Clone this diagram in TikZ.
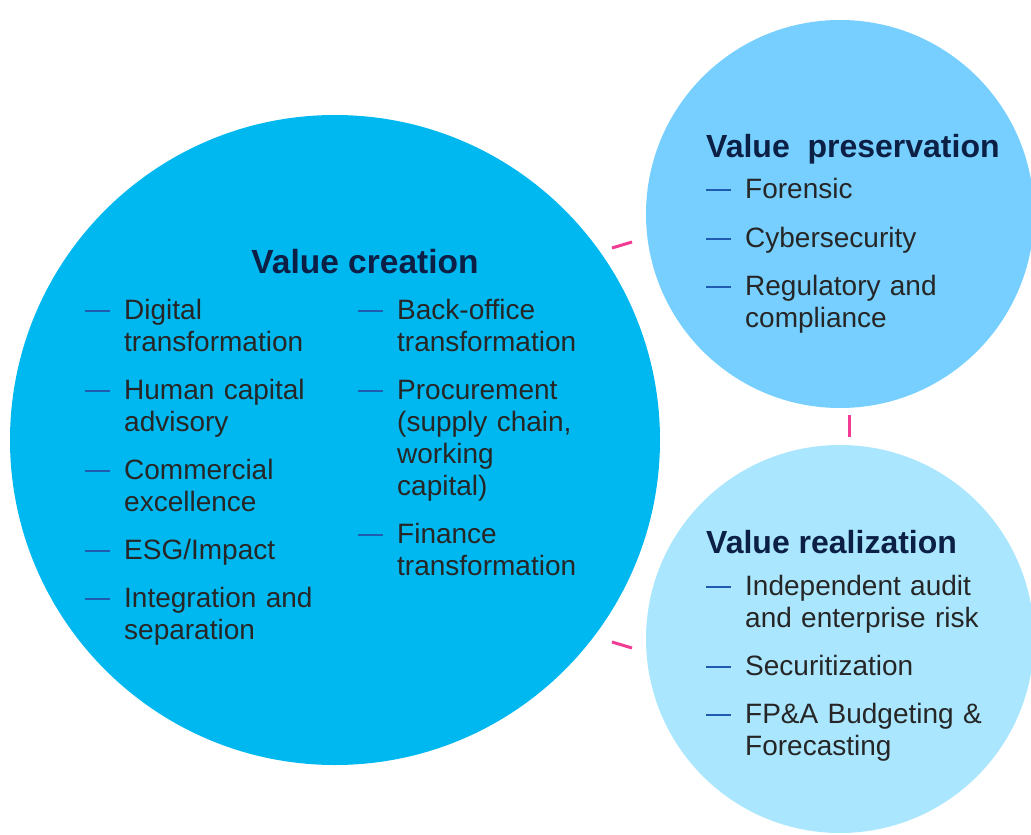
\documentclass[tikz,border=0pt]{standalone}
\usepackage{fontspec}
\setmainfont{Liberation Sans}
\usetikzlibrary{positioning}
\definecolor{creation}{HTML}{00B8F0}
\definecolor{preservation}{HTML}{76CFFF}
\definecolor{realization}{HTML}{AAE7FF}
\definecolor{navy}{HTML}{0C1F45}
\definecolor{bodygray}{HTML}{262626}
\definecolor{dashblue}{HTML}{1F5CB0}
\definecolor{tickpink}{HTML}{F23C94}

\begin{document}
\begin{tikzpicture}[x=1pt,y=-1pt]
\tikzstyle{itm}=[anchor=base west,inner sep=0pt,text width=300pt,align=left,text=bodygray,font=\fontsize{28}{32}\selectfont]
\tikzstyle{ttl}=[anchor=base west,inner sep=0pt,text=navy,font=\fontsize{32}{36}\selectfont\bfseries]
\tikzstyle{dsh}=[draw=dashblue,line width=1.6pt]
\tikzstyle{tick}=[draw=tickpink,line width=3pt]
\useasboundingbox (0,0) rectangle (1031,835);

% the three circles
\fill[creation] (335,440) circle (325);
\fill[preservation] (840,214) circle (194);
\fill[realization] (840,639) circle (194);

% small marks in the gaps
\draw[tick] (612,248) -- (632,242);
\draw[tick] (849,415) -- (849,437);
\draw[tick] (612,642) -- (632,648);

% value creation
\node[ttl,anchor=base,font=\fontsize{33.5}{38}\selectfont\bfseries] (crt) at (365,273) {Value creation};
\node[itm] (dig) at (124,319) {Digital\\transformation};
\node[itm] (hum) at (124,399) {Human capital\\advisory};
\node[itm] (com) at (124,479) {Commercial\\excellence};
\node[itm] (esg) at (124,559) {ESG/Impact};
\node[itm] (int) at (124,607) {Integration and\\separation};
\node[itm] (bck) at (397,319) {Back-office\\transformation};
\node[itm] (prc) at (397,399) {Procurement\\(supply chain,\\working\\capital)};
\node[itm] (fin) at (397,543) {Finance\\transformation};

% value preservation
\node[ttl] (prs) at (706,157) {Value~ preservation};
\node[itm] (frn) at (745,198) {Forensic};
\node[itm] (cyb) at (745,247) {Cybersecurity};
\node[itm] (reg) at (745,295) {Regulatory and\\compliance};

% value realization
\node[ttl] (rlz) at (706,553) {Value realization};
\node[itm] (aud) at (745,595) {Independent audit\\and enterprise risk};
\node[itm] (sec) at (745,675) {Securitization};
\node[itm] (fpa) at (745,723) {FP\&A Budgeting \&\\Forecasting};

\foreach \n in {dig,hum,com,esg,int,bck,prc,fin,frn,cyb,reg,aud,sec,fpa}
  \draw[dsh] ([xshift=-39pt,yshift=8pt]\n.base west) -- ++(25,0);
\end{tikzpicture}
\end{document}
